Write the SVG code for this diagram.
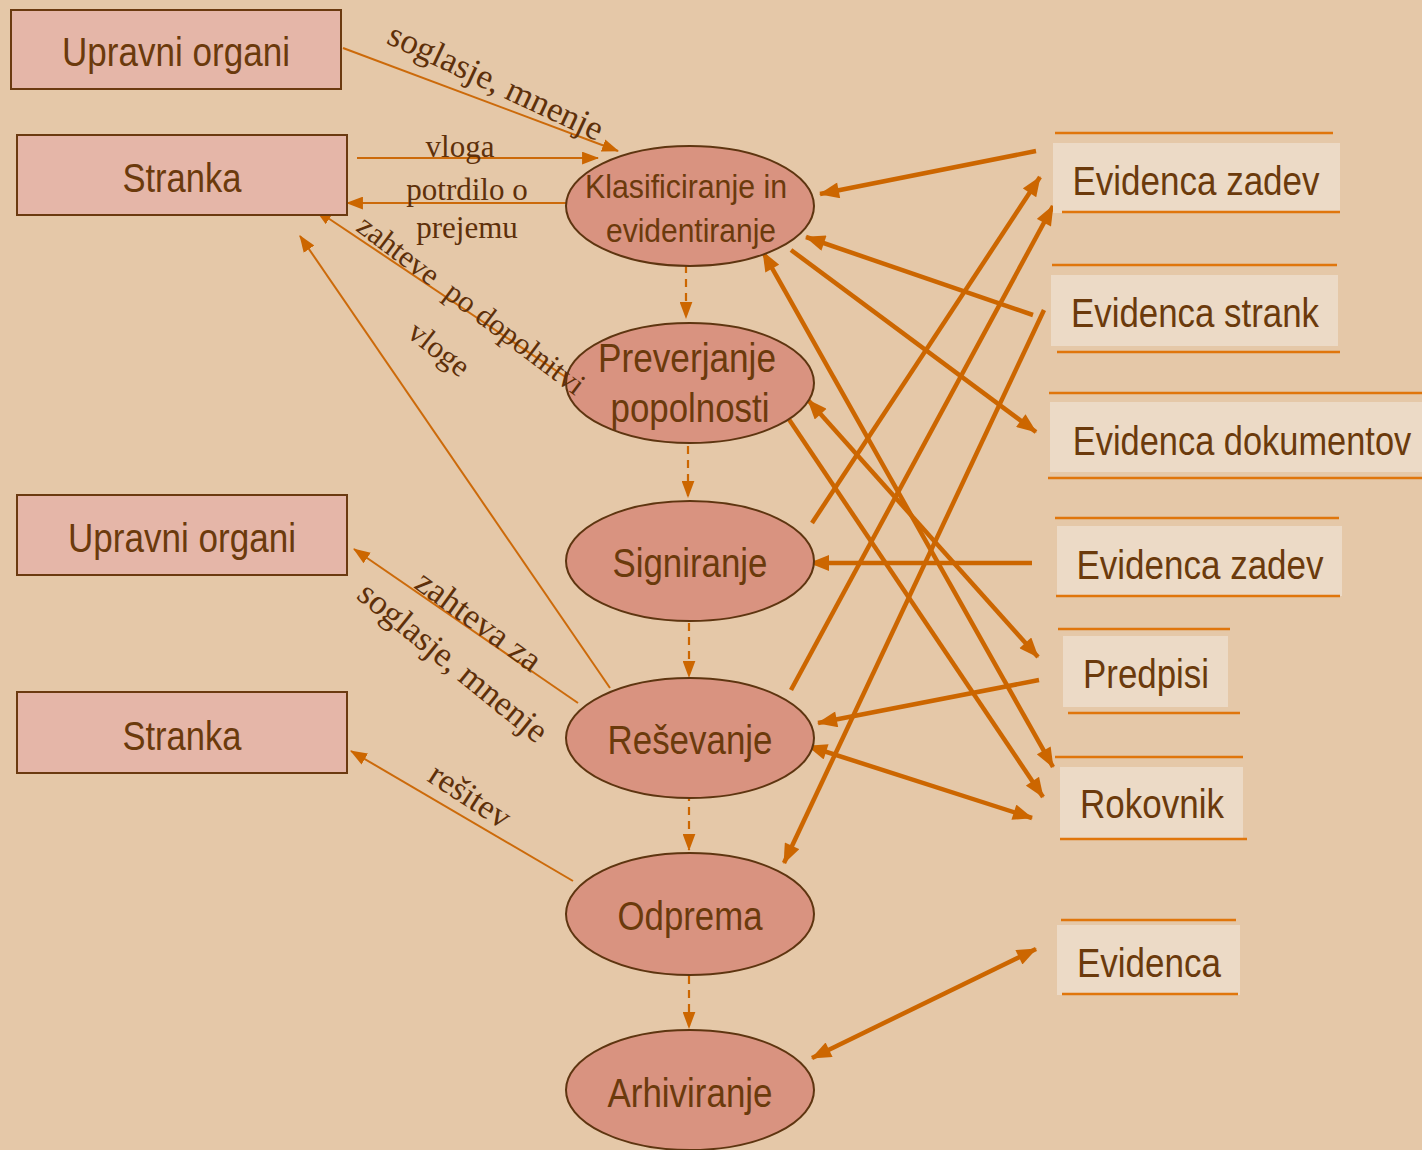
<svg xmlns="http://www.w3.org/2000/svg" width="1422" height="1150" viewBox="0 0 1422 1150">
  <style>
    .bg { fill: #e5c8a8; }
    .actor { fill: #e5b6a8; stroke: #6b3a10; stroke-width: 2; }
    .proc { fill: #d99380; stroke: #5e3510; stroke-width: 2; }
    .store { fill: #ecdac6; }
    .bar { stroke: #e0760c; stroke-width: 2.5; }
    .lbl { font-family: "Liberation Sans", Arial, sans-serif; fill: #6b3a0c; text-anchor: middle; }
    .flow { font-family: "Liberation Serif", "Times New Roman", serif; fill: #5e300a; font-size: 31px; text-anchor: middle; }
    .flow.big { font-size: 35px; }
    .thin { stroke: #cc6a0a; stroke-width: 2; fill: none; }
    .thick { stroke: #cc6600; stroke-width: 4.5; fill: none; }
    .dash { stroke: #cc6600; stroke-width: 2.2; stroke-dasharray: 8 6; fill: none; }
  </style>
  <defs>
    <marker id="ah" viewBox="0 0 16 12" refX="15" refY="6" markerWidth="17" markerHeight="13" markerUnits="userSpaceOnUse" orient="auto-start-reverse">
      <path d="M0,0 L16,6 L0,12 Z" fill="#cc6600"/>
    </marker>
    <marker id="ahb" viewBox="0 0 20 16" refX="19" refY="8" markerWidth="21" markerHeight="16" markerUnits="userSpaceOnUse" orient="auto-start-reverse">
      <path d="M0,0 L20,8 L0,16 Z" fill="#cc6600"/>
    </marker>
  </defs>

  <rect class="bg" x="0" y="0" width="1422" height="1150"/>

  <!-- connectors -->
  <g id="connectors">
    <!-- process chain -->
    <line class="dash" x1="686" y1="265" x2="686" y2="318" marker-end="url(#ah)"/>
    <line class="dash" x1="688" y1="446" x2="688" y2="497" marker-end="url(#ah)"/>
    <line class="dash" x1="689" y1="623" x2="689" y2="677" marker-end="url(#ah)"/>
    <line class="dash" x1="689" y1="793" x2="689" y2="850" marker-end="url(#ah)"/>
    <line class="dash" x1="689" y1="976" x2="689" y2="1028" marker-end="url(#ah)"/>

    <!-- flows to and from the parties -->
    <line class="thin" x1="343" y1="48" x2="618" y2="151" marker-end="url(#ah)"/>
    <line class="thin" x1="357" y1="158" x2="598" y2="158" marker-end="url(#ah)"/>
    <line class="thin" x1="566" y1="203" x2="347" y2="203" marker-end="url(#ah)"/>
    <line class="thin" x1="570" y1="380" x2="316" y2="210" marker-end="url(#ah)"/>
    <line class="thin" x1="610" y1="688" x2="300" y2="236" marker-end="url(#ah)"/>
    <line class="thin" x1="578" y1="703" x2="354" y2="549" marker-end="url(#ah)"/>
    <line class="thin" x1="573" y1="881" x2="351" y2="751" marker-end="url(#ah)"/>

    <!-- flows to and from the records -->
    <line class="thick" x1="1036" y1="151" x2="820" y2="194" marker-end="url(#ahb)"/>
    <line class="thick" x1="1033" y1="315" x2="806" y2="237" marker-end="url(#ahb)"/>
    <line class="thick" x1="791" y1="250" x2="1036" y2="432" marker-end="url(#ahb)"/>
    <line class="thick" x1="812" y1="523" x2="1040" y2="177" marker-end="url(#ahb)"/>
    <line class="thick" x1="791" y1="690" x2="1053" y2="206" marker-end="url(#ahb)"/>
    <line class="thick" x1="1044" y1="310" x2="784" y2="863" marker-end="url(#ahb)"/>
    <line class="thick" x1="782" y1="409" x2="1043" y2="797" marker-end="url(#ahb)"/>
    <line class="thick" x1="763" y1="252" x2="1053" y2="767" marker-start="url(#ahb)" marker-end="url(#ahb)"/>
    <line class="thick" x1="808" y1="400" x2="1038" y2="657" marker-start="url(#ahb)" marker-end="url(#ahb)"/>
    <line class="thick" x1="1032" y1="563" x2="810" y2="563" marker-end="url(#ahb)"/>
    <line class="thick" x1="1039" y1="680" x2="818" y2="723" marker-end="url(#ahb)"/>
    <line class="thick" x1="808" y1="746" x2="1032" y2="818" marker-start="url(#ahb)" marker-end="url(#ahb)"/>
    <line class="thick" x1="812" y1="1058" x2="1036" y2="949" marker-start="url(#ahb)" marker-end="url(#ahb)"/>
  </g>

  <!-- parties -->
  <g id="upravni-organi-1">
    <rect class="actor" x="11" y="10" width="330" height="79"/>
    <text class="lbl" x="176" y="66" font-size="40" textLength="228" lengthAdjust="spacingAndGlyphs">Upravni organi</text>
  </g>
  <g id="stranka-1">
    <rect class="actor" x="17" y="135" width="330" height="80"/>
    <text class="lbl" x="182" y="192" font-size="40" textLength="119" lengthAdjust="spacingAndGlyphs">Stranka</text>
  </g>
  <g id="upravni-organi-2">
    <rect class="actor" x="17" y="495" width="330" height="80"/>
    <text class="lbl" x="182" y="552" font-size="40" textLength="228" lengthAdjust="spacingAndGlyphs">Upravni organi</text>
  </g>
  <g id="stranka-2">
    <rect class="actor" x="17" y="692" width="330" height="81"/>
    <text class="lbl" x="182" y="750" font-size="40" textLength="119" lengthAdjust="spacingAndGlyphs">Stranka</text>
  </g>

  <!-- processes -->
  <g id="klasificiranje">
    <ellipse class="proc" cx="690" cy="206" rx="124" ry="60"/>
    <text class="lbl" x="686" y="198" font-size="34" textLength="202" lengthAdjust="spacingAndGlyphs">Klasificiranje in</text>
    <text class="lbl" x="691" y="242" font-size="34" textLength="170" lengthAdjust="spacingAndGlyphs">evidentiranje</text>
  </g>
  <g id="preverjanje">
    <ellipse class="proc" cx="690" cy="383" rx="124" ry="60"/>
    <text class="lbl" x="687" y="372" font-size="40" textLength="178" lengthAdjust="spacingAndGlyphs">Preverjanje</text>
    <text class="lbl" x="690" y="422" font-size="40" textLength="159" lengthAdjust="spacingAndGlyphs">popolnosti</text>
  </g>
  <g id="signiranje">
    <ellipse class="proc" cx="690" cy="561" rx="124" ry="60"/>
    <text class="lbl" x="690" y="577" font-size="40" textLength="155" lengthAdjust="spacingAndGlyphs">Signiranje</text>
  </g>
  <g id="resevanje">
    <ellipse class="proc" cx="690" cy="738" rx="124" ry="60"/>
    <text class="lbl" x="690" y="754" font-size="40" textLength="165" lengthAdjust="spacingAndGlyphs">Reševanje</text>
  </g>
  <g id="odprema">
    <ellipse class="proc" cx="690" cy="914" rx="124" ry="61"/>
    <text class="lbl" x="690" y="930" font-size="40" textLength="145" lengthAdjust="spacingAndGlyphs">Odprema</text>
  </g>
  <g id="arhiviranje">
    <ellipse class="proc" cx="690" cy="1090" rx="124" ry="60"/>
    <text class="lbl" x="690" y="1107" font-size="40" textLength="165" lengthAdjust="spacingAndGlyphs">Arhiviranje</text>
  </g>

  <!-- records -->
  <g id="evidenca-zadev-1">
    <rect class="store" x="1053" y="143" width="287" height="70"/>
    <line class="bar" x1="1055" y1="133" x2="1333" y2="133"/>
    <line class="bar" x1="1062" y1="212" x2="1340" y2="212"/>
    <text class="lbl" x="1196" y="195" font-size="40" textLength="247" lengthAdjust="spacingAndGlyphs">Evidenca zadev</text>
  </g>
  <g id="evidenca-strank">
    <rect class="store" x="1051" y="275" width="287" height="71"/>
    <line class="bar" x1="1052" y1="265" x2="1337" y2="265"/>
    <line class="bar" x1="1057" y1="352" x2="1340" y2="352"/>
    <text class="lbl" x="1195" y="327" font-size="40" textLength="248" lengthAdjust="spacingAndGlyphs">Evidenca strank</text>
  </g>
  <g id="evidenca-dokumentov">
    <rect class="store" x="1050" y="402" width="372" height="70"/>
    <line class="bar" x1="1049" y1="393" x2="1422" y2="393"/>
    <line class="bar" x1="1048" y1="478" x2="1422" y2="478"/>
    <text class="lbl" transform="translate(1242,455) scale(0.86,1)" font-size="40">Evidenca dokumentov</text>
  </g>
  <g id="evidenca-zadev-2">
    <rect class="store" x="1057" y="526" width="285" height="70"/>
    <line class="bar" x1="1055" y1="518" x2="1339" y2="518"/>
    <line class="bar" x1="1056" y1="596" x2="1340" y2="596"/>
    <text class="lbl" x="1200" y="579" font-size="40" textLength="247" lengthAdjust="spacingAndGlyphs">Evidenca zadev</text>
  </g>
  <g id="predpisi">
    <rect class="store" x="1063" y="636" width="165" height="71"/>
    <line class="bar" x1="1058" y1="629" x2="1230" y2="629"/>
    <line class="bar" x1="1068" y1="713" x2="1240" y2="713"/>
    <text class="lbl" x="1146" y="688" font-size="40" textLength="126" lengthAdjust="spacingAndGlyphs">Predpisi</text>
  </g>
  <g id="rokovnik">
    <rect class="store" x="1060" y="767" width="183" height="71"/>
    <line class="bar" x1="1055" y1="757" x2="1243" y2="757"/>
    <line class="bar" x1="1060" y1="839" x2="1247" y2="839"/>
    <text class="lbl" x="1152" y="818" font-size="40" textLength="144" lengthAdjust="spacingAndGlyphs">Rokovnik</text>
  </g>
  <g id="evidenca">
    <rect class="store" x="1057" y="925" width="183" height="70"/>
    <line class="bar" x1="1061" y1="920" x2="1236" y2="920"/>
    <line class="bar" x1="1062" y1="994" x2="1238" y2="994"/>
    <text class="lbl" x="1149" y="977" font-size="40" textLength="144" lengthAdjust="spacingAndGlyphs">Evidenca</text>
  </g>

  <!-- flow labels, drawn on top so they may overlap the process shapes -->
  <g id="flow-labels">
    <text class="flow big" transform="translate(491,92) rotate(25)">soglasje, mnenje</text>
    <text class="flow" x="460" y="157">vloga</text>
    <text class="flow" x="467" y="200">potrdilo o</text>
    <text class="flow" x="467" y="238">prejemu</text>
    <text class="flow" transform="translate(465,313) rotate(37)" xml:space="preserve">zahteve  po dopolnitvi</text>
    <text class="flow" transform="translate(433,357) rotate(38)">vloge</text>
    <text class="flow big" transform="translate(472,630) rotate(36)">zahteva za</text>
    <text class="flow big" transform="translate(446,671) rotate(39)">soglasje, mnenje</text>
    <text class="flow" transform="translate(464,805) rotate(33)" style="font-size:34px">rešitev</text>
  </g>
</svg>
